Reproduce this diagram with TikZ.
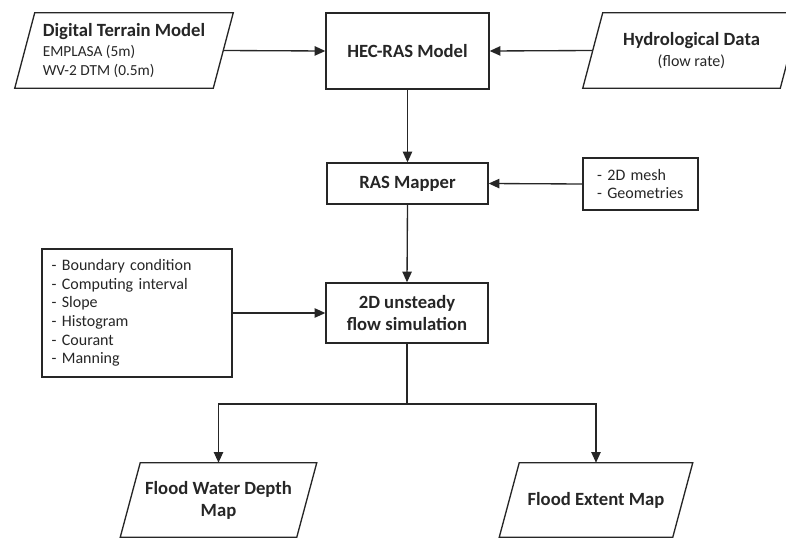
\documentclass[tikz,border=0pt]{standalone}
\usepackage{fontspec}
\setmainfont{Carlito}
\usetikzlibrary{arrows.meta}
\definecolor{inkgray}{RGB}{38,38,38}

\begin{document}
\begin{tikzpicture}[x=0.75pt,y=-0.75pt,
    every node/.style={text=inkgray},
    box/.style={draw=inkgray,line width=1pt,fill=white,inner sep=0pt},
    datanode/.style={inner sep=0pt},
    arr/.style={draw=inkgray,line width=1pt,-{Triangle[length=8pt,width=7pt]}},
    link/.style={draw=inkgray,line width=1pt},
    titlefont/.style={font=\fontsize{14}{16.5}\selectfont\bfseries},
    listfont/.style={font=\fontsize{12}{14}\selectfont}]
    \clip (0,0) rectangle (786,539);

    % Digital Terrain Model
    \node[datanode,minimum width=148.5pt,minimum height=56.25pt,align=left,
        font=\fontsize{11.5}{14.3}\selectfont] (dtm) at (124,50.5)
        {{\fontsize{14}{16}\selectfont\bfseries Digital Terrain Model}\\[0.5pt]
         EMPLASA (5m)\\
         WV-2 DTM (0.5m)};

    % HEC-RAS Model
    \node[box,titlefont,minimum width=122.25pt,minimum height=57pt] (hec) at (407.5,51) {HEC-RAS Model};

    % Hydrological Data
    \node[datanode,minimum width=147.75pt,minimum height=56.25pt,align=center,
        font=\fontsize{12}{14}\selectfont] (hydro) at (691.5,50.5)
        {{\fontsize{14}{16}\selectfont\bfseries Hydrological Data}\\[2pt]
         (flow rate)};

    % RAS Mapper
    \node[box,titlefont,minimum width=120.75pt,minimum height=30.75pt] (ras) at (407.5,183.5) {RAS Mapper};
    \node[box,listfont,align=left,minimum width=86.25pt,minimum height=39pt,text width=65pt] (mesh) at (640.5,184)
        {- 2D mesh\\- Geometries};

    % 2D unsteady flow simulation
    \node[box,titlefont,align=center,minimum width=121.5pt,minimum height=45pt] (sim) at (407,313)
        {2D unsteady\\flow simulation};
    \node[box,listfont,align=left,minimum width=142.5pt,minimum height=96pt,text width=128pt] (param) at (137,313)
        {- Boundary condition\\- Computing interval\\- Slope\\- Histogram\\- Courant\\- Manning};

    % Outputs
    \node[datanode,titlefont,align=center,minimum width=132pt,minimum height=55.5pt] (depth) at (218.5,500)
        {Flood Water Depth\\Map};
    \node[datanode,titlefont,minimum width=129.75pt,minimum height=55.5pt] (extent) at (596,500)
        {Flood Extent Map};

    % slanted data shapes
    \foreach \n in {dtm,hydro,depth,extent}
        \draw[draw=inkgray,line width=1pt]
            ([xshift=7.5pt]\n.north west) -- ([xshift=7.5pt]\n.north east)
            -- ([xshift=-7.5pt]\n.south east) -- ([xshift=-7.5pt]\n.south west) -- cycle;

    % connectors
    \draw[arr] (dtm.east) -- (hec.west);
    \draw[arr] (hydro.west) -- (hec.east);
    \draw[arr] (hec.south) -- (ras.north);
    \draw[arr] (mesh.west) -- (ras.east);
    \draw[arr] (ras.south) -- (sim.north);
    \draw[arr] (param.east) -- (sim.west);
    \coordinate (split) at (407,404);
    \draw[link] (sim.south) -- (split);
    \draw[arr] (split) -| (depth.north);
    \draw[arr] (split) -| (extent.north);
\end{tikzpicture}
\end{document}
